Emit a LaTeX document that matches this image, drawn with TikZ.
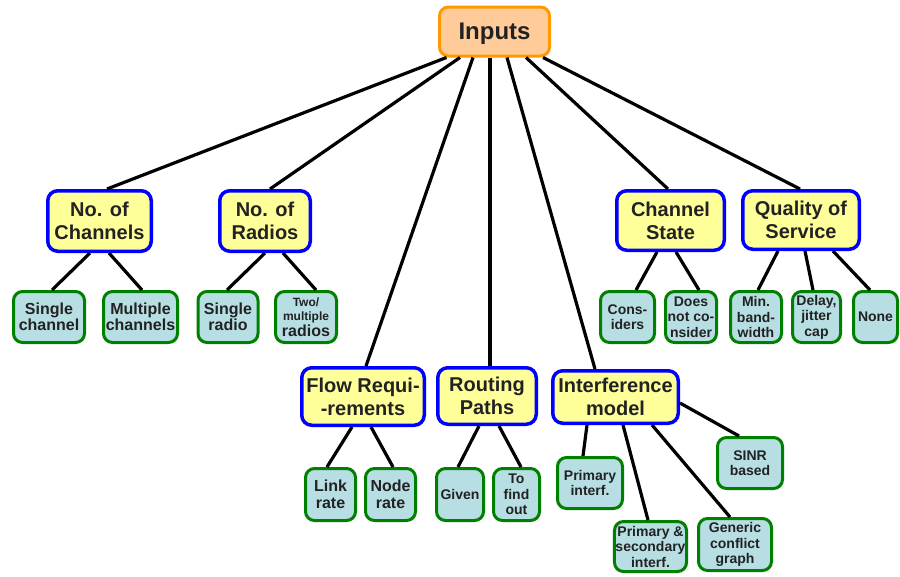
\documentclass[tikz,border=0pt]{standalone}
\usepackage{fontspec}
\setmainfont{Liberation Sans}
\usepackage{xcolor}
\usetikzlibrary{positioning}
\definecolor{inputorange}{RGB}{255, 153, 0}
\definecolor{inputfill}{RGB}{255, 204, 153}
\definecolor{catblue}{RGB}{0, 0, 255}
\definecolor{catfill}{RGB}{255, 255, 153}
\definecolor{leafgreen}{RGB}{0, 128, 0}
\definecolor{leaffill}{RGB}{183, 222, 226}
\definecolor{darktext}{RGB}{34, 34, 34}

\begin{document}
\begin{tikzpicture}[
	x=1pt, y=-1pt,
	% Root node
	inputbox/.style={
			rectangle,
			rounded corners=9pt,
			minimum width=110pt,
			minimum height=49pt,
			fill=inputfill,
			draw=inputorange,
			line width=3pt,
			text depth=0pt,
			font=\fontsize{24}{27}\selectfont\bfseries,
			text=darktext
		},
	% Category nodes
	catbox/.style={
			rectangle,
			rounded corners=10pt,
			minimum height=58pt,
			fill=catfill,
			draw=catblue,
			line width=3.5pt,
			inner sep=2pt,
			align=center,
			font=\fontsize{20}{23}\selectfont\bfseries,
			text=darktext
		},
	% Option nodes
	leafbox/.style={
			rectangle,
			rounded corners=9pt,
			minimum height=51pt,
			fill=leaffill,
			draw=leafgreen,
			line width=3pt,
			inner sep=1pt,
			align=center,
			font=\fontsize{16}{16.5}\selectfont\bfseries,
			text=darktext
		},
	leafsmall/.style={
			leafbox,
			font=\fontsize{14}{15.5}\selectfont\bfseries
		},
	link/.style={
			line width=3.2pt,
			color=black
		}
	]
	\useasboundingbox (0,0) rectangle (900,576);

	% Root
	\node[inputbox] (inputs) at (494.5, 31.5) {Inputs};

	% Upper categories
	\node[catbox, minimum width=103.5pt, minimum height=60.5pt] (channels) at (99.5, 221) {No. of\\Channels};
	\node[catbox, minimum width=90.5pt, minimum height=60.5pt] (radios) at (265, 221) {No. of\\Radios};
	\node[catbox, minimum width=107.5pt, minimum height=59.5pt] (chstate) at (670.5, 220.5) {Channel\\State};
	\node[catbox, minimum width=116.5pt, minimum height=58.5pt] (qos) at (801, 220) {Quality of\\Service};

	% Lower categories
	\node[catbox, minimum width=122.5pt, minimum height=57.5pt] (flowreq) at (363, 396.5) {Flow Requi-\\-rements};
	\node[catbox, minimum width=98.5pt, minimum height=56.5pt] (routing) at (487, 396) {Routing\\Paths};
	\node[catbox, minimum width=125.5pt, minimum height=52.5pt] (interf) at (615.5, 397) {Interference\\model};

	% Options of the upper categories
	\node[leafbox, minimum width=71pt] (singlech) at (49, 317) {Single\\channel};
	\node[leafbox, minimum width=74pt, right=16pt of singlech] (multich) {Multiple\\channels};
	\node[leafbox, minimum width=60pt] (singleradio) at (228, 317) {Single\\radio};
	\node[leafbox, minimum width=61pt, right=14.5pt of singleradio] (multiradio) {{\fontsize{12}{13}\selectfont Two/}\\[-2pt]{\fontsize{12}{13}\selectfont multiple}\\[-1pt]radios};
	\node[leafsmall, minimum width=54pt] (considers) at (627.5, 317) {Cons-\\iders};
	\node[leafsmall, minimum width=51pt, right=8pt of considers] (notconsider) {Does\\not co-\\nsider};
	\node[leafsmall, minimum width=51pt, right=11pt of notconsider] (minbw) {Min.\\band-\\width};
	\node[leafsmall, minimum width=48pt, right=8pt of minbw] (delay) {Delay,\\jitter\\cap};
	\node[leafsmall, minimum width=44pt, right=10pt of delay] (none) {None};

	% Options of the lower categories
	\node[leafbox, minimum width=50pt, minimum height=52pt] (linkrate) at (330.5, 494.5) {Link\\rate};
	\node[leafbox, minimum width=50pt, minimum height=52pt, right=7pt of linkrate] (noderate) {Node\\rate};
	\node[leafsmall, minimum width=47pt, minimum height=52pt] (given) at (460, 494.5) {Given};
	\node[leafsmall, minimum width=46pt, minimum height=52pt, right=7pt of given] (tofind) {To\\find\\out};
	\node[leafsmall, minimum width=65pt] (priminterf) at (590, 483) {Primary\\interf.};
	\node[leafsmall, minimum width=65pt] (sinr) at (750, 463) {SINR\\based};
	\node[leafsmall, minimum width=72pt, minimum height=50pt] (primsec) at (650.5, 546.5) {Primary \&\\secondary\\interf.};
	\node[leafsmall, minimum width=73pt, minimum height=52pt] (generic) at (735, 544.5) {Generic\\conflict\\graph};

	% Root to categories
	\draw[link] ([xshift=-48pt]inputs.south) -- ([xshift=7.5pt]channels.north);
	\draw[link] ([xshift=-34.5pt]inputs.south) -- ([xshift=5pt]radios.north);
	\draw[link] ([xshift=-21.5pt]inputs.south) -- ([xshift=3pt]flowreq.north);
	\draw[link] ([xshift=-4.5pt]inputs.south) -- ([xshift=3pt]routing.north);
	\draw[link] ([xshift=12.5pt]inputs.south) -- ([xshift=-20.5pt]interf.north);
	\draw[link] ([xshift=31.5pt]inputs.south) -- ([xshift=-2.5pt]chstate.north);
	\draw[link] ([xshift=48.5pt]inputs.south) -- ([xshift=-1pt]qos.north);

	% Categories to options
	\draw[link] ([xshift=-9.5pt]channels.south) -- ([xshift=3pt]singlech.north);
	\draw[link] ([xshift=9.5pt]channels.south) -- ([xshift=1.5pt]multich.north);
	\draw[link] (radios.south) -- ([xshift=-1pt]singleradio.north);
	\draw[link] ([xshift=18pt]radios.south) -- ([xshift=10pt]multiradio.north);
	\draw[link] ([xshift=-13.5pt]chstate.south) -- ([xshift=8.5pt]considers.north);
	\draw[link] ([xshift=5.5pt]chstate.south) -- ([xshift=8pt]notconsider.north);
	\draw[link] ([xshift=-23pt]qos.south) -- ([xshift=2pt]minbw.north);
	\draw[link] ([xshift=4pt]qos.south) -- ([xshift=-3.5pt]delay.north);
	\draw[link] ([xshift=32pt]qos.south) -- ([xshift=-5.5pt]none.north);
	\draw[link] ([xshift=-11pt]flowreq.south) -- ([xshift=-3.5pt]linkrate.north);
	\draw[link] ([xshift=8pt]flowreq.south) -- ([xshift=2.5pt]noderate.north);
	\draw[link] ([xshift=-8pt]routing.south) -- ([xshift=-2pt]given.north);
	\draw[link] ([xshift=12pt]routing.south) -- ([xshift=4.5pt]tofind.north);
	\draw[link] ([xshift=-28.5pt]interf.south) -- ([xshift=-7pt]priminterf.north);
	\draw[link] ([xshift=7.5pt]interf.south) -- ([xshift=-2.5pt]primsec.north);
	\draw[link] ([xshift=36.5pt]interf.south) -- ([xshift=-5pt]generic.north);
	\draw[link] ([yshift=-6pt]interf.east) -- ([xshift=-11pt]sinr.north);

\end{tikzpicture}
\end{document}
